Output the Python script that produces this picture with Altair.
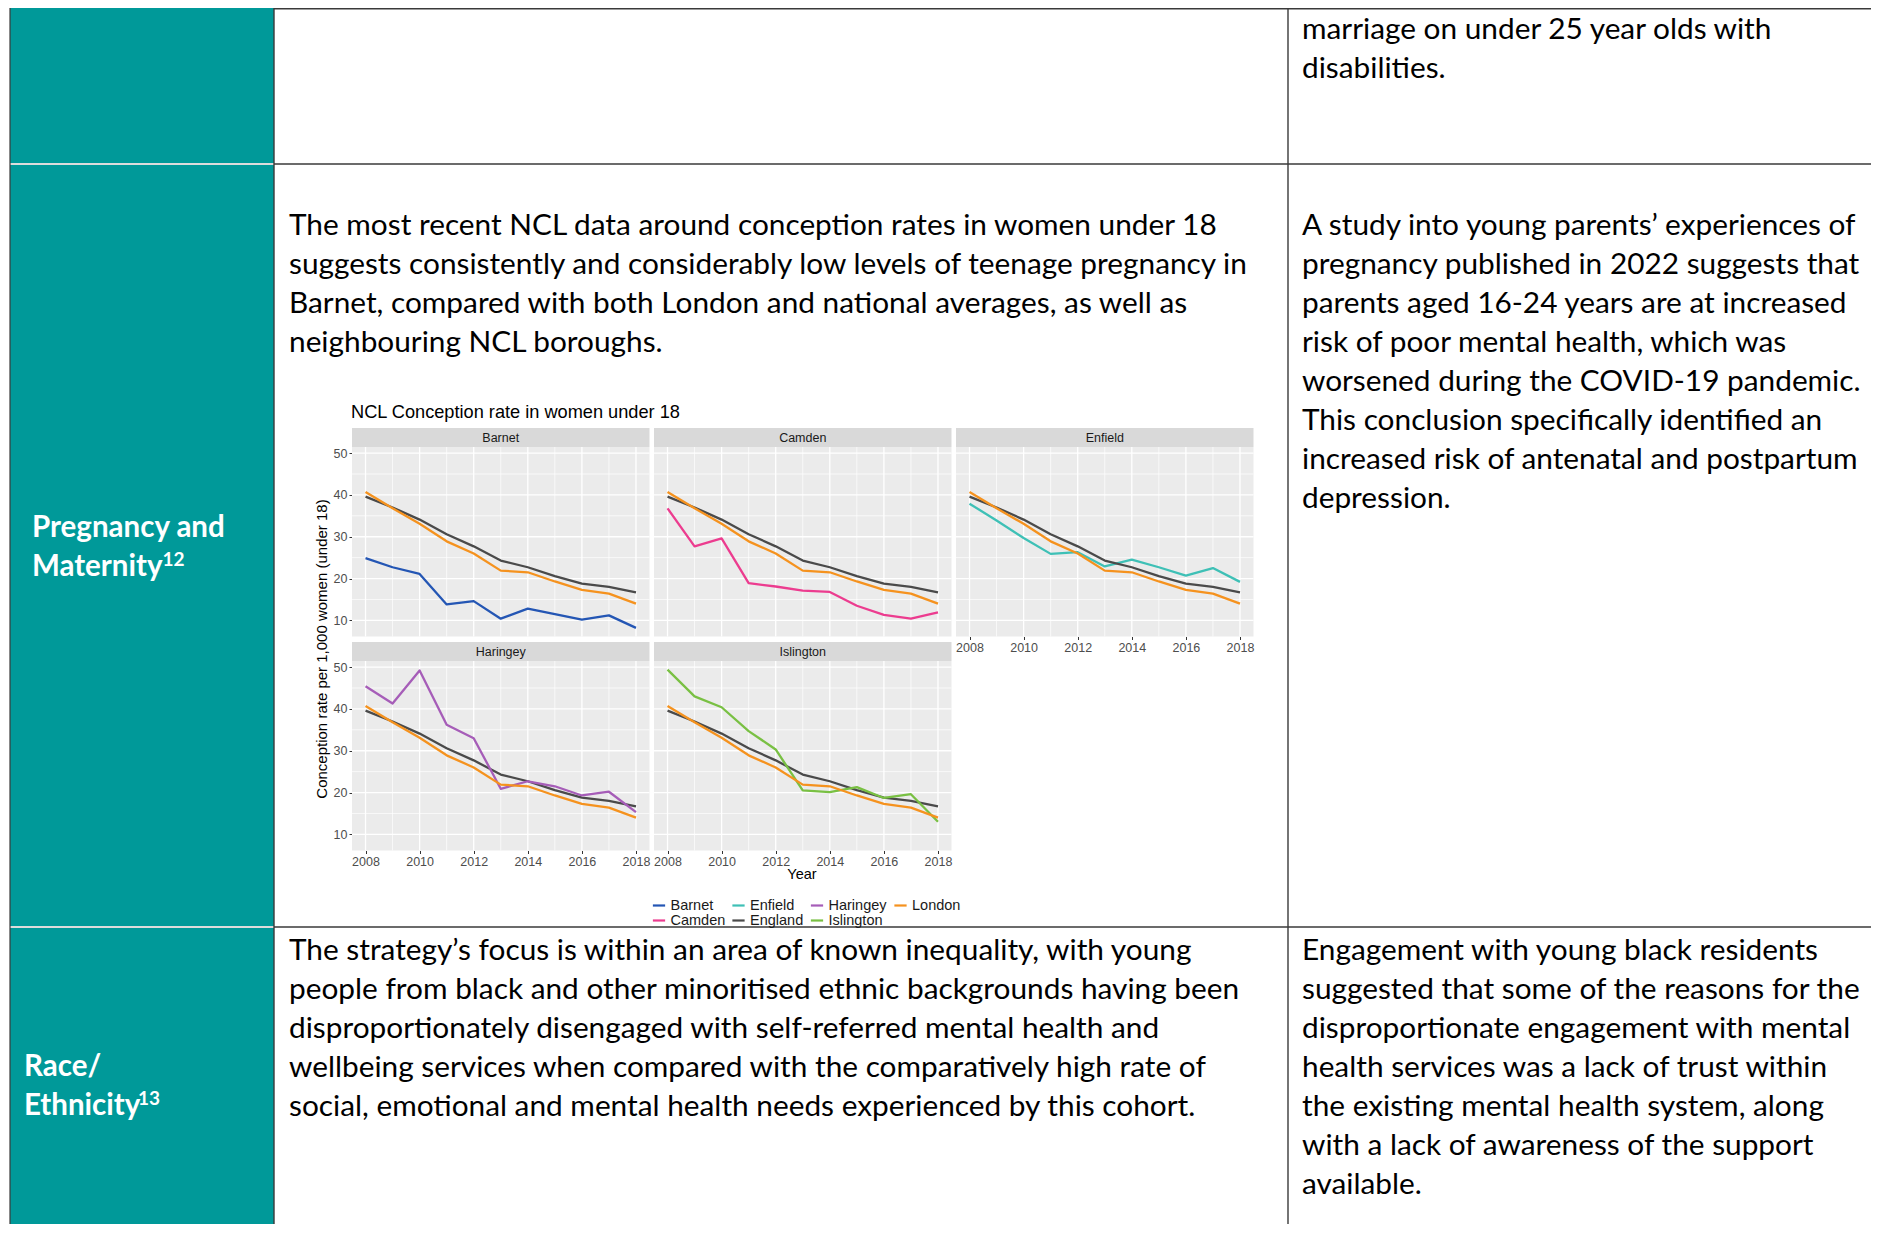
import altair as alt
import pandas as pd

# ---------------- data ----------------
YEARS = list(range(2008, 2019))
ENGLAND = [39.6, 37.0, 34.1, 30.6, 27.7, 24.3, 22.7, 20.6, 18.8, 18.0, 16.7]
LONDON = [40.7, 36.8, 33.1, 28.9, 26.0, 21.9, 21.5, 19.3, 17.3, 16.4, 14.0]
BARNET = [24.9, 22.7, 21.1, 13.8, 14.6, 10.4, 12.8, 11.5, 10.2, 11.2, 8.2]
CAMDEN = [36.8, 27.7, 29.6, 18.9, 18.1, 17.1, 16.8, 13.5, 11.3, 10.4, 11.9]
ENFIELD = [37.9, 33.9, 29.7, 25.9, 26.3, 22.9, 24.5, 22.7, 20.7, 22.5, 19.2]
HARINGEY = [45.4, 41.3, 49.2, 36.2, 33.0, 20.9, 22.7, 21.5, 19.3, 20.2, 15.3]
ISLINGTON = [49.4, 43.0, 40.4, 34.7, 30.3, 20.5, 20.1, 21.3, 18.7, 19.6, 13.0]

BOROUGHS = ["Barnet", "Camden", "Enfield", "Haringey", "Islington"]
BOROUGH_SERIES = [BARNET, CAMDEN, ENFIELD, HARINGEY, ISLINGTON]

# legend order (row-major, 4 columns) and colours
LEGEND_ORDER = ["Barnet", "Enfield", "Haringey", "London", "Camden", "England", "Islington"]
LEGEND_COLORS = ["#2456b4", "#3ec0b6", "#a65db8", "#f5921e", "#ec3c8f", "#4a4a4a", "#79c043"]

X_MAJOR = [2008, 2010, 2012, 2014, 2016, 2018]
X_MINOR = [2009, 2011, 2013, 2015, 2017]
Y_MAJOR = [10, 20, 30, 40, 50]
Y_MINOR = [15, 25, 35, 45]

CHART_TITLE = "NCL Conception rate in women under 18"
Y_TITLE = "Conception rate per 1,000 women (under 18)"
X_TITLE = "Year"

TOP_RIGHT = ["marriage on under 25 year olds with", "disabilities."]
MID_TEXT = [
    "The most recent NCL data around conception rates in women under 18",
    "suggests consistently and considerably low levels of teenage pregnancy in",
    "Barnet, compared with both London and national averages, as well as",
    "neighbouring NCL boroughs.",
]
RIGHT_TEXT = [
    "A study into young parents’ experiences of",
    "pregnancy published in 2022 suggests that",
    "parents aged 16-24 years are at increased",
    "risk of poor mental health, which was",
    "worsened during the COVID-19 pandemic.",
    "This conclusion specifically identified an",
    "increased risk of antenatal and postpartum",
    "depression.",
]
BOTTOM_MID = [
    "The strategy’s focus is within an area of known inequality, with young",
    "people from black and other minoritised ethnic backgrounds having been",
    "disproportionately disengaged with self-referred mental health and",
    "wellbeing services when compared with the comparatively high rate of",
    "social, emotional and mental health needs experienced by this cohort.",
]
BOTTOM_RIGHT = [
    "Engagement with young black residents",
    "suggested that some of the reasons for the",
    "disproportionate engagement with mental",
    "health services was a lack of trust within",
    "the existing mental health system, along",
    "with a lack of awareness of the support",
    "available.",
]
LABEL_1 = ["Pregnancy and", "Maternity"]
SUP_1 = "12"
LABEL_2 = ["Race/", "Ethnicity"]
SUP_2 = "13"

# ---------------- tables ----------------
rows = []
for b, vals in zip(BOROUGHS, BOROUGH_SERIES):
    series = {b: vals, "England": ENGLAND, "London": LONDON}
    for region in sorted(series):
        for yr, v in zip(YEARS, series[region]):
            rows.append({"panel": b, "region": region, "year": yr, "rate": v})
df = pd.DataFrame(rows)

lo, hi = df["rate"].min(), df["rate"].max()
pad = 0.05 * (hi - lo)
YDOM = [lo - pad, hi + pad]
XDOM = [YEARS[0] - 0.5, YEARS[-1] + 0.5]

DUMMY = pd.DataFrame({"k": [0]})
xmaj_df = pd.DataFrame({"v": X_MAJOR})
xmin_df = pd.DataFrame({"v": X_MINOR})
ymaj_df = pd.DataFrame({"v": Y_MAJOR})
ymin_df = pd.DataFrame({"v": Y_MINOR})

# ---------------- layout ----------------
W, H = 1863, 1216
DOC_FONT = "Lato"
CF = "Liberation Sans"
DOC_SIZE = 29.8
LAB_SIZE = 29.5
LH = 39
TEAL = "#009999"
LINE = "#3a3a3a"

COL_X = [344, 646, 948]
PW = 297.5
ROW_Y = [420, 634]
SH = 19
PH = 189.5

layers = []


def hrule(x0, x1, y, color=LINE, w=1.4):
    return alt.Chart(DUMMY).mark_rule(color=color, strokeWidth=w).encode(
        x=alt.value(x0), x2=alt.value(x1), y=alt.value(y))


def vrule(x, y0, y1, color=LINE, w=1.4):
    return alt.Chart(DUMMY).mark_rule(color=color, strokeWidth=w).encode(
        x=alt.value(x), y=alt.value(y0), y2=alt.value(y1))


def text_block(lines, x, y, size=DOC_SIZE, font=DOC_FONT, weight="normal", color="black"):
    return alt.Chart(DUMMY).mark_text(
        text=lines, font=font, fontSize=size, fontWeight=weight, color=color,
        align="left", baseline="alphabetic", lineHeight=LH,
    ).encode(x=alt.value(x), y=alt.value(y))


# table background
layers.append(alt.Chart(DUMMY).mark_rect(color=TEAL).encode(
    x=alt.value(2), x2=alt.value(266), y=alt.value(0), y2=alt.value(H)))
layers.append(hrule(2, 266, 156, color="#dcdcdc", w=2))
layers.append(hrule(2, 266, 919, color="#dcdcdc", w=2))
layers.append(vrule(2, 0, H, w=1.2))
layers.append(vrule(266, 0, H))
layers.append(vrule(1280, 0, H))
layers.append(hrule(266, W, 0.8))
layers.append(hrule(266, W, 156))
layers.append(hrule(266, W, 919))

# document text
layers.append(text_block(TOP_RIGHT, 1294, 31))
layers.append(text_block(MID_TEXT, 281, 227))
layers.append(text_block(RIGHT_TEXT, 1294, 227))
layers.append(text_block(BOTTOM_MID, 281, 952))
layers.append(text_block(BOTTOM_RIGHT, 1294, 952))
layers.append(text_block(LABEL_1, 24, 529, size=LAB_SIZE, weight="bold", color="white"))
layers.append(text_block(LABEL_2, 16, 1068, size=LAB_SIZE, weight="bold", color="white"))
layers.append(text_block([SUP_1], 154.5, 558, size=19, weight="bold", color="white"))
layers.append(text_block([SUP_2], 130, 1097, size=19, weight="bold", color="white"))

# chart titles
layers.append(alt.Chart(DUMMY).mark_text(
    text=CHART_TITLE, font=CF, fontSize=18.2, color="black", align="left", baseline="alphabetic"
).encode(x=alt.value(343), y=alt.value(410)))
layers.append(alt.Chart(DUMMY).mark_text(
    text=Y_TITLE, font=CF, fontSize=15, color="black", align="center", baseline="middle", angle=270
).encode(x=alt.value(314), y=alt.value(641)))
layers.append(alt.Chart(DUMMY).mark_text(
    text=X_TITLE, font=CF, fontSize=14.5, color="black", align="center", baseline="middle"
).encode(x=alt.value(794), y=alt.value(867)))

legend = alt.Legend(
    orient="none", legendX=643.5, legendY=890, columns=4, direction="horizontal",
    symbolType="stroke", symbolStrokeWidth=2.2, symbolSize=150, title=None,
    labelFont=CF, labelFontSize=14.5, labelColor="#1a1a1a", padding=0,
    rowPadding=0, columnPadding=1.5, labelOffset=4, labelLimit=0,
)

PANELS = [("Barnet", 0, 0), ("Camden", 1, 0), ("Enfield", 2, 0), ("Haringey", 0, 1), ("Islington", 1, 1)]

for name, col, row in PANELS:
    x0 = COL_X[col]
    x1 = x0 + PW
    st = ROW_Y[row]
    py0 = st + SH
    py1 = py0 + PH
    xs = alt.Scale(domain=XDOM, range=[x0, x1], nice=False, zero=False)
    ys = alt.Scale(domain=YDOM, range=[py1, py0], nice=False, zero=False)

    layers.append(alt.Chart(DUMMY).mark_rect(color="#ebebeb").encode(
        x=alt.value(x0), x2=alt.value(x1), y=alt.value(py0), y2=alt.value(py1)))
    for gdf, w in ((xmin_df, 0.7), (xmaj_df, 1.3)):
        layers.append(alt.Chart(gdf).mark_rule(color="white", strokeWidth=w).encode(
            x=alt.X("v:Q", scale=xs, axis=None), y=alt.value(py0), y2=alt.value(py1)))
    for gdf, w in ((ymin_df, 0.7), (ymaj_df, 1.3)):
        layers.append(alt.Chart(gdf).mark_rule(color="white", strokeWidth=w).encode(
            y=alt.Y("v:Q", scale=ys, axis=None), x=alt.value(x0), x2=alt.value(x1)))

    # strip
    layers.append(alt.Chart(DUMMY).mark_rect(color="#d9d9d9").encode(
        x=alt.value(x0), x2=alt.value(x1), y=alt.value(st), y2=alt.value(py0)))
    layers.append(alt.Chart(DUMMY).mark_text(
        text=name, font=CF, fontSize=12.5, color="#1a1a1a", align="center", baseline="middle"
    ).encode(x=alt.value(x0 + PW / 2), y=alt.value(st + SH / 2 + 0.5)))

    show_y = col == 0
    show_x = (row == 1) or (col == 2)
    xaxis = alt.Axis(
        orient="bottom", offset=py1 - H, values=X_MAJOR, format="d", title=None,
        domain=False, grid=False, tickSize=3, tickColor="#333333", labelColor="#4d4d4d",
        labelFont=CF, labelFontSize=12.5, labelPadding=2, labelFlush=False, labelOverlap=False,
    ) if show_x else None
    yaxis = alt.Axis(
        orient="left", offset=-x0, values=Y_MAJOR, title=None, domain=False, grid=False,
        tickSize=3, tickColor="#333333", labelColor="#4d4d4d", labelFont=CF,
        labelFontSize=12.5, labelPadding=2, labelFlush=False, labelOverlap=False,
    ) if show_y else None

    layers.append(alt.Chart(df[df["panel"] == name]).mark_line(
        strokeWidth=2.3, strokeJoin="round"
    ).encode(
        x=alt.X("year:Q", scale=xs, axis=xaxis),
        y=alt.Y("rate:Q", scale=ys, axis=yaxis),
        color=alt.Color("region:N", scale=alt.Scale(domain=LEGEND_ORDER, range=LEGEND_COLORS),
                        legend=legend),
    ))

chart = alt.layer(*layers).resolve_scale(
    x="independent", y="independent"
).resolve_axis(
    x="independent", y="independent"
).properties(
    width=W, height=H, autosize=alt.AutoSizeParams(type="none"), padding=0
).configure_view(stroke=None)

chart.save("out.html", embed_options={"renderer": "svg", "actions": False})
